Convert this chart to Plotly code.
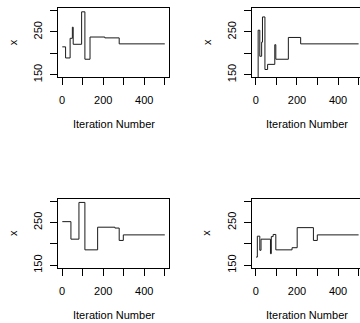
import plotly.graph_objects as go

# Step-wise trace data: iteration at which the chain moves, and the new value
chain1_iter = [1, 17, 39, 50, 54, 95, 111, 136, 208, 278, 500]
chain1_val = [215, 189, 235, 261, 221, 297, 186, 238, 236, 222, 222]

chain2_iter = [1, 11, 19, 28, 32, 44, 57, 92, 97, 158, 218, 500]
chain2_val = [120, 254, 193, 226, 285, 162, 174, 220, 186, 237, 222, 222]

chain3_iter = [1, 43, 82, 111, 173, 257, 278, 298, 500]
chain3_val = [252, 211, 297, 186, 239, 237, 208, 221, 221]

chain4_iter = [1, 7, 19, 25, 71, 75, 84, 97, 176, 201, 280, 299, 500]
chain4_val = [169, 218, 185, 211, 177, 217, 222, 186, 191, 238, 208, 221, 221]

x_tickvals = [0, 100, 200, 300, 400, 500]
x_ticktext = ["0", "", "200", "", "400", ""]
y_tickvals = [150, 200, 250, 300]
y_ticktext = ["150", "", "250", ""]
x_title = "Iteration Number"
y_title = "x"

W, H = 360, 323
FONT = "Liberation Sans, Arial, sans-serif"

# panel boxes in pixels: (left, right, top, bottom)
panels = [
    (58.2, 168.9, 8.1, 78.4),
    (252.0, 360.0, 8.1, 78.4),
    (58.2, 168.9, 201.7, 272.0),
    (252.0, 360.0, 201.7, 272.0),
]
chains = [(chain1_iter, chain1_val), (chain2_iter, chain2_val),
          (chain3_iter, chain3_val), (chain4_iter, chain4_val)]

scale = (168.9 - 58.2) / 538.92  # px per iteration
fig = go.Figure()
layout = dict(width=W, height=H, margin=dict(l=0, r=0, t=0, b=0),
              paper_bgcolor="white", plot_bgcolor="white", showlegend=False,
              font=dict(family=FONT, size=11, color="black"))
annotations = []
for i, ((l, r, t, b), (xs, ys)) in enumerate(zip(panels, chains)):
    n = "" if i == 0 else str(i + 1)
    fig.add_trace(go.Scatter(x=xs, y=ys, mode="lines", line_shape="hv",
                             line=dict(color="#1a1a1a", width=1),
                             xaxis="x" + n, yaxis="y" + n, hoverinfo="skip"))
    xmin = -18.96
    xmax = xmin + (r - l) / scale
    cut = r >= W
    layout["xaxis" + n] = dict(
        domain=[l / W, r / W], range=[xmin, xmax], anchor="y" + n,
        showline=True, linecolor="black", linewidth=1, mirror=True,
        ticks="outside", ticklen=7, tickwidth=1, tickcolor="black",
        tickvals=x_tickvals, ticktext=x_ticktext, showgrid=False, zeroline=False,
        ticklabelstandoff=6, tickfont=dict(family=FONT, size=11, color="black"))
    layout["yaxis" + n] = dict(
        domain=[1 - b / H, 1 - t / H], range=[144, 306], anchor="x" + n,
        showline=True, linecolor="black", linewidth=1, mirror=not cut,
        ticks="outside", ticklen=7, tickwidth=1, tickcolor="black",
        tickvals=y_tickvals, ticktext=y_ticktext, tickangle=-90,
        showgrid=False, zeroline=False, ticklabelstandoff=4,
        tickfont=dict(family=FONT, size=11, color="black"))
    cx = (l + (l + (168.9 - 58.2))) / 2
    annotations.append(dict(text=x_title, x=cx / W, y=1 - (b + 47.5) / H,
                            xref="paper", yref="paper", showarrow=False,
                            xanchor="center", yanchor="middle",
                            font=dict(family=FONT, size=11, color="black")))
    annotations.append(dict(text=y_title, x=(l - 45.5) / W, y=1 - ((t + b) / 2) / H,
                            xref="paper", yref="paper", showarrow=False,
                            textangle=-90, xanchor="center", yanchor="middle",
                            font=dict(family=FONT, size=11, color="black")))
layout["annotations"] = annotations
fig.update_layout(**layout)
fig.write_html("out.html")
